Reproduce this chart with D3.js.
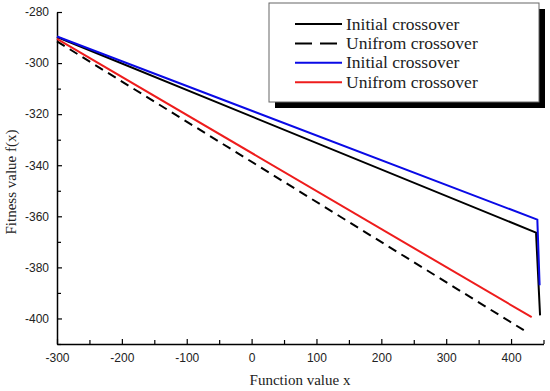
<!DOCTYPE html>
<html>
<head>
<meta charset="utf-8">
<script src="https://cdn.jsdelivr.net/npm/d3@7"></script>
<style>
	body { margin: 0; background: #fff; }
	#graph { display: block; }
</style>
</head>
<body>
<svg id="graph"></svg>
<script>
// series (x = function value, y = fitness value)
const initialBlackX = [-300, 438.5, 444.7];
const initialBlackY = [-289.8, -366.4, -398.8];
const uniformBlackX = [-300, 419.6];
const uniformBlackY = [-291.5, -404.6];
const initialBlueX = [-300, 440.5, 444];
const initialBlueY = [-289.6, -361.3, -387];
const uniformRedX = [-300, 431.8];
const uniformRedY = [-290.5, -399.5];

const legendLabels = ["Initial crossover", "Unifrom crossover", "Initial crossover", "Unifrom crossover"];
const xTicks = [-300, -200, -100, 0, 100, 200, 300, 400];
const xMinorTicks = [-250, -150, -50, 50, 150, 250, 350, 450];
const yTicks = [-280, -300, -320, -340, -360, -380, -400];
const yMinorTicks = [-290, -310, -330, -350, -370, -390, -410];

document.addEventListener("DOMContentLoaded", function () {
	const w = 550;
	const h = 391;
	const svg = d3.select("#graph").attr("width", w).attr("height", h);

	// plot area edges
	const left = 57, right = 543.5, top = 12, bottom = 344;

	const xScale = d3.scaleLinear().domain([-300, 450]).range([left, right]);
	const yScale = d3.scaleLinear().domain([-410, -280]).range([bottom, top]);

	// minor ticks first (no labels)
	svg.append("g")
		.attr("transform", "translate(0, " + bottom + ")")
		.call(d3.axisBottom(xScale).tickValues(xMinorTicks).tickSize(-4).tickFormat(""))
		.call((g) => g.select(".domain").remove());
	svg.append("g")
		.attr("transform", "translate(" + left + ", 0)")
		.call(d3.axisLeft(yScale).tickValues(yMinorTicks).tickSize(-4).tickFormat(""))
		.call((g) => g.select(".domain").remove());

	// major axes, ticks pointing inward, plain hyphen minus in labels
	const plain = (d) => String(d);
	const xAxis = svg.append("g")
		.attr("id", "x-axis")
		.attr("transform", "translate(0, " + bottom + ")")
		.call(d3.axisBottom(xScale).tickValues(xTicks).tickFormat(plain).tickSizeInner(-5).tickSizeOuter(0));
	const yAxis = svg.append("g")
		.attr("id", "y-axis")
		.attr("transform", "translate(" + left + ", 0)")
		.call(d3.axisLeft(yScale).tickValues(yTicks).tickFormat(plain).tickSizeInner(-5).tickSizeOuter(0));

	svg.selectAll(".tick line").attr("stroke", "#000").attr("stroke-width", 1.2);
	svg.selectAll(".domain").attr("stroke", "#000").attr("stroke-width", 1.5);
	svg.selectAll(".tick text")
		.attr("font-family", "'Liberation Sans', Arial, sans-serif")
		.attr("font-size", 12)
		.attr("fill", "#222");
	xAxis.selectAll(".tick text").attr("y", 9);
	yAxis.selectAll(".tick text").attr("x", -8);

	// axis titles
	svg.append("text")
		.attr("x", 300)
		.attr("y", 385)
		.attr("text-anchor", "middle")
		.attr("font-family", "'Liberation Serif', 'Times New Roman', serif")
		.attr("font-size", 15)
		.attr("fill", "#222")
		.text("Function value x");
	svg.append("text")
		.attr("transform", "translate(16, 182) rotate(-90)")
		.attr("text-anchor", "middle")
		.attr("font-family", "'Liberation Serif', 'Times New Roman', serif")
		.attr("font-size", 15)
		.attr("fill", "#222")
		.text("Fitness value f(x)");

	// lines
	const series = [
		{ xs: initialBlackX, ys: initialBlackY, color: "#000", dash: null },
		{ xs: uniformBlackX, ys: uniformBlackY, color: "#000", dash: "9,6" },
		{ xs: initialBlueX, ys: initialBlueY, color: "#0a0ae6", dash: null },
		{ xs: uniformRedX, ys: uniformRedY, color: "#ee1c1c", dash: null },
	];
	const line = d3.line().x((d) => xScale(d[0])).y((d) => yScale(d[1]));
	series.forEach((s) => {
		svg.append("path")
			.datum(s.xs.map((x, i) => [x, s.ys[i]]))
			.attr("d", line)
			.attr("fill", "none")
			.attr("stroke", s.color)
			.attr("stroke-width", 2)
			.attr("stroke-dasharray", s.dash);
	});

	// legend box with drop shadow
	const lg = svg.append("g").attr("transform", "translate(269, 3)");
	lg.append("rect").attr("x", 6).attr("y", 6).attr("width", 270).attr("height", 99).attr("fill", "#000");
	lg.append("rect").attr("width", 270).attr("height", 99).attr("fill", "#fff").attr("stroke", "#666").attr("stroke-width", 1);
	legendLabels.forEach((label, i) => {
		const y = 21 + i * 19.4;
		lg.append("line")
			.attr("x1", 26).attr("x2", 73).attr("y1", y).attr("y2", y)
			.attr("stroke", series[i].color)
			.attr("stroke-width", 2)
			.attr("stroke-dasharray", i === 1 ? "17,8" : null);
		lg.append("text")
			.attr("x", 77)
			.attr("y", y + 5.5)
			.attr("font-family", "'Liberation Serif', 'Times New Roman', serif")
			.attr("font-size", 17.5)
			.attr("fill", "#222")
			.text(label);
	});
});
</script>
</body>
</html>
